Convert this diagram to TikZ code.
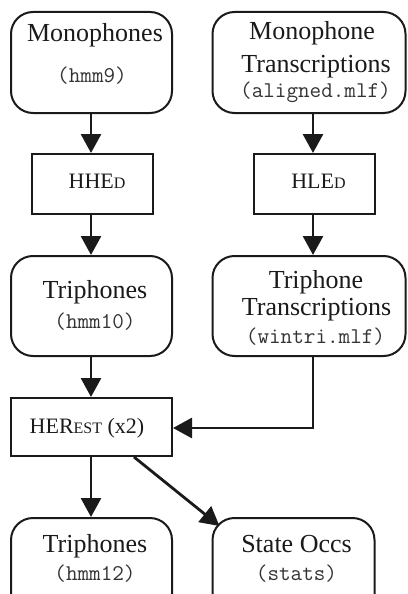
\documentclass[tikz,border=0pt]{standalone}
\usepackage{fontspec}
\setmainfont{Liberation Serif}
\usetikzlibrary{arrows.meta}
\definecolor{ink}{HTML}{1A1A1A}
\definecolor{monoink}{HTML}{333333}
\begin{document}
\begin{tikzpicture}[x=1pt,y=-1pt,
  data/.style={draw=ink, line width=2pt, rounded corners=22pt, inner sep=0pt, minimum width=161pt, minimum height=101pt},
  wide/.style={data, minimum width=193pt},
  tool/.style={draw=ink, line width=2pt, inner sep=0pt},
  big/.style={font=\fontsize{26}{30}\selectfont, text=ink, anchor=base, inner sep=0pt},
  mono/.style={font=\fontsize{22.5}{25}\selectfont\ttfamily, text=monoink, anchor=base, inner sep=0pt},
  tl/.style={font=\fontsize{22}{26}\selectfont, text=ink, anchor=base, inner sep=0pt},
  arr/.style={draw=ink, line width=2.8pt, -{Triangle[length=19pt,width=20pt]}},
]
\useasboundingbox (0,0) rectangle (407,594);
\newcommand{\sck}[1]{{\fontsize{16}{18}\selectfont #1}}

% boxes
\node[data] (mono) at (91.5,62.5) {};
\node[wide] (montr) at (309,62.5) {};
\node[tool, minimum width=121pt, minimum height=60pt] (hhed) at (92,184) {};
\node[tool, minimum width=121pt, minimum height=60pt] (hled) at (314.5,184) {};
\node[data, minimum height=100pt] (tri) at (91.5,306) {};
\node[wide, minimum height=100pt] (tritr) at (309,306) {};
\node[tool, minimum width=161pt, minimum height=58pt] (herest) at (91.5,427) {};
\node[data, minimum height=102pt] (tri2) at (91.5,569) {};
\node[data, minimum width=162pt, minimum height=102pt] (occs) at (293.5,569) {};

% texts
\node[big] (t1) at (95,42) {Monophones};
\node[mono] (t2) at (92,82) {(hmm9)};
\node[big] (t3) at (312,40) {Monophone};
\node[big] (t4) at (316,72) {Transcriptions};
\node[mono] (t5) at (315.5,97) {(aligned.mlf)};
\node[tl] (t6) at (97,188) {HHE\sck{D}};
\node[tl] (t7) at (318.5,188) {HLE\sck{D}};
\node[big] (t8) at (95,298) {Triphones};
\node[mono] (t9) at (95,328) {(hmm10)};
\node[big] (t10) at (316,288) {Triphone};
\node[big] (t11) at (316.5,315) {Transcriptions};
\node[mono] (t12) at (315.5,343) {(wintri.mlf)};
\node[tl] (t13) at (87,433) {HER\sck{EST} (x2)};
\node[big] (t14) at (95,552) {Triphones};
\node[mono] (t15) at (95,580) {(hmm12)};
\node[big] (t16) at (296.5,552) {State Occs};
\node[mono] (t17) at (296.5,580) {(stats)};

% connectors
\coordinate (p1) at ([xshift=-0.5pt]mono.south);
\draw[arr] (p1) -- (p1 |- hhed.north);
\coordinate (p2) at ([xshift=-1.5pt]hled.north |- montr.south);
\draw[arr] (p2) -- (p2 |- hled.north);
\coordinate (p3) at ([xshift=-1pt]hhed.south);
\draw[arr] (p3) -- (p3 |- tri.north);
\coordinate (p4) at ([xshift=-1.5pt]hled.south);
\draw[arr] (p4) -- (p4 |- tritr.north);
\coordinate (p5) at ([xshift=-0.5pt]tri.south);
\draw[arr] (p5) -- (p5 |- herest.north);
\coordinate (p6) at (p4 |- tritr.south);
\coordinate (p7) at ([yshift=-1pt]herest.east);
\draw[arr] (p6) |- (p7);
\coordinate (p8) at ([xshift=-0.5pt]herest.south);
\draw[arr] (p8) -- (p8 |- tri2.north);
\coordinate (p9) at ([xshift=-39pt]herest.south east);
\coordinate (p10) at ([xshift=8pt,yshift=-9pt]occs.north west);
\draw[arr] (p9) -- (p10);
\end{tikzpicture}
\end{document}
